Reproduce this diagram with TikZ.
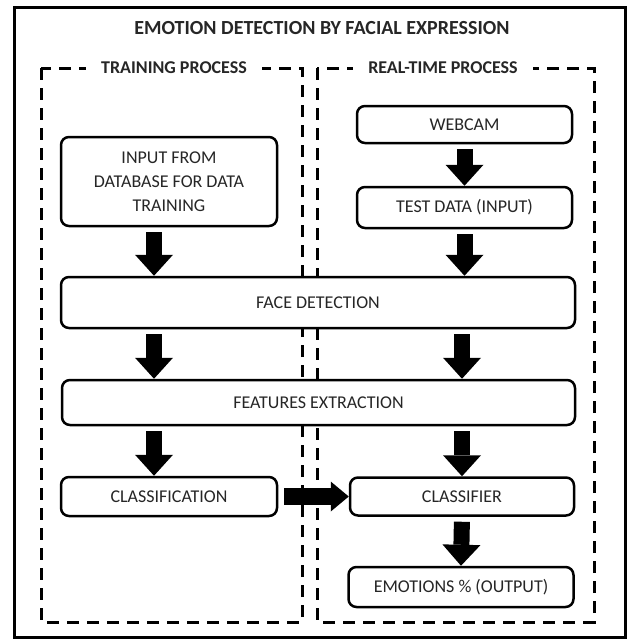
\documentclass[tikz,border=0pt]{standalone}
\usepackage{fontspec}
\setmainfont{Carlito}
\usetikzlibrary{arrows.meta}

\tikzset{
  box/.style={draw, line width=2.5pt, rounded corners=8pt, fill=white, inner sep=0pt,
    align=center, text=black!85, font=\fontsize{18}{24}\selectfont},
  lbl/.style={fill=white, inner xsep=15pt, inner ysep=3pt, text=black!85,
    font=\bfseries\fontsize{18}{22}\selectfont},
  dashbox/.style={line width=3pt, dash pattern=on 12pt off 8pt},
  fatarrow/.style={line width=16pt, shorten <=5pt,
    -{Triangle[width=38pt,length=21pt,line width=0pt]}},
  sidearrow/.style={line width=17pt, shorten <=6pt,
    -{Triangle[width=30pt,length=18pt,line width=0pt]}},
}

\begin{document}
\begin{tikzpicture}[x=1pt,y=-1pt]
\useasboundingbox (0,0) rectangle (632,640);
\draw[line width=3pt] (14,7) rectangle (625,637);
\node[font=\bfseries\fontsize{20}{24}\selectfont, text=black!85] (title) at (322,28) {EMOTION DETECTION BY FACIAL EXPRESSION};

\draw[dashbox] (41,68) rectangle (302,622);
\draw[dashbox] (317,68) rectangle (594,622);
\node[lbl] (train) at (174,68) {TRAINING PROCESS};
\node[lbl] (realtime) at (443,68) {REAL-TIME PROCESS};

\coordinate (leftcol) at (154,0);
\coordinate (rightcol) at (462,0);

\node[box, minimum width=216pt, minimum height=89pt] (input) at (169,181.5) {INPUT FROM\\DATABASE FOR DATA\\TRAINING};
\node[box, minimum width=215pt, minimum height=37pt] (webcam) at (464.5,124.5) {WEBCAM};
\node[box, minimum width=215pt, minimum height=41pt] (test) at (464.5,207.5) {TEST DATA (INPUT)};
\node[box, minimum width=514pt, minimum height=51pt] (face) at (318,302.5) {FACE DETECTION};
\node[box, minimum width=513pt, minimum height=45pt] (feat) at (318.5,402.5) {FEATURES EXTRACTION};
\node[box, minimum width=216pt, minimum height=39pt] (classif) at (169,496.5) {CLASSIFICATION};
\node[box, minimum width=224pt, minimum height=38pt] (classr) at (462,496.5) {CLASSIFIER};
\node[box, minimum width=225pt, minimum height=40pt] (emo) at (461,587) {EMOTIONS \% (OUTPUT)};

\draw[fatarrow] (leftcol |- input.south) -- (leftcol |- face.north);
\draw[fatarrow] (leftcol |- face.south) -- (leftcol |- feat.north);
\draw[fatarrow] (leftcol |- feat.south) -- (leftcol |- classif.north);
\draw[fatarrow] (webcam.south) -- (test.north);
\draw[fatarrow] (test.south) -- (test.south |- face.north);
\draw[fatarrow] (rightcol |- face.south) -- (rightcol |- feat.north);
\draw[fatarrow] (rightcol |- feat.south) -- (classr.north);
\draw[fatarrow] (classr.south) -- (emo.north);
\draw[sidearrow] (classif.east) -- (classr.west);
\end{tikzpicture}
\end{document}
